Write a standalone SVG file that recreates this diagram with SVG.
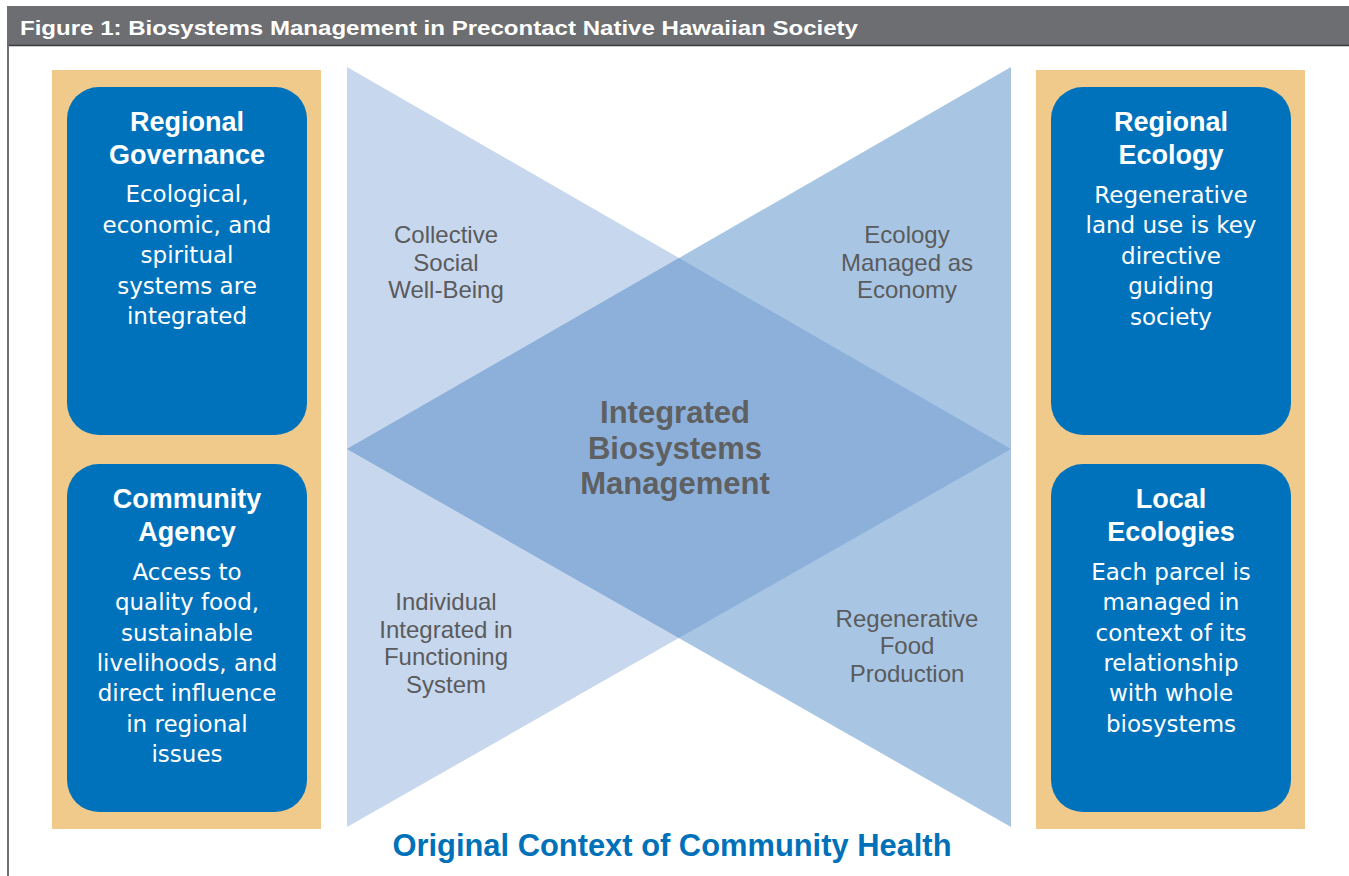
<svg xmlns="http://www.w3.org/2000/svg" width="1349" height="876" viewBox="0 0 1349 876">
<style>
.panel{fill:#f0ca8b}
.box{fill:#0072bc}
.hd{font-family:"Liberation Sans",Arial,sans-serif;font-weight:bold;font-size:27px;fill:#fff;text-anchor:middle}
.bd{font-family:"DejaVu Sans",sans-serif;font-size:23px;fill:#fff;text-anchor:middle}
.lbl{font-family:"Liberation Sans",Arial,sans-serif;font-size:24px;fill:#5a5b5d;text-anchor:middle}
.ctr{font-family:"Liberation Sans",Arial,sans-serif;font-weight:bold;font-size:31px;fill:#5f6062;text-anchor:middle}
</style>
<rect width="1349" height="876" fill="#fff"/>
<g id="header">
<rect x="7" y="6" width="1342" height="39" fill="#6d6e71"/>
<line x1="7" y1="45.5" x2="1349" y2="45.5" stroke="#3a3a3c" stroke-width="1.5"/>
<line x1="8" y1="45" x2="8" y2="876" stroke="#6d6e71" stroke-width="2"/>
<text x="20" y="35" font-family="Liberation Sans, Arial, sans-serif" font-weight="bold" font-size="21" fill="#fff" textLength="838" lengthAdjust="spacingAndGlyphs">Figure 1: Biosystems Management in Precontact Native Hawaiian Society</text>
</g>
<g id="bowtie">
<polygon points="347,67 1011,449 347,827" fill="#c7d7ed"/>
<polygon points="1011,67 347,449 1011,827" fill="#a8c6e3"/>
<polygon points="347,449 679,258 1011,449 679,638" fill="#8cb0da"/>
</g>
<g id="collective-social">
<text class="lbl" x="446" y="243">Collective</text>
<text class="lbl" x="446" y="271">Social</text>
<text class="lbl" x="446" y="298">Well-Being</text>
</g>
<g id="ecology-economy">
<text class="lbl" x="907" y="243">Ecology</text>
<text class="lbl" x="907" y="271">Managed as</text>
<text class="lbl" x="907" y="298">Economy</text>
</g>
<g id="individual-integrated">
<text class="lbl" x="446" y="610">Individual</text>
<text class="lbl" x="446" y="638">Integrated in</text>
<text class="lbl" x="446" y="665">Functioning</text>
<text class="lbl" x="446" y="693">System</text>
</g>
<g id="regenerative-food">
<text class="lbl" x="907" y="627">Regenerative</text>
<text class="lbl" x="907" y="654">Food</text>
<text class="lbl" x="907" y="682">Production</text>
</g>
<g id="integrated-biosystems">
<text class="ctr" x="675" y="423">Integrated</text>
<text class="ctr" x="675" y="459">Biosystems</text>
<text class="ctr" x="675" y="494">Management</text>
</g>
<g id="left-panel">
<rect class="panel" x="52" y="70" width="269" height="759"/>
</g>
<g id="right-panel">
<rect class="panel" x="1036" y="70" width="269" height="759"/>
</g>
<g id="regional-governance">
<rect class="box" x="67" y="87" width="240" height="348" rx="32"/>
<text class="hd" x="187" y="131">Regional</text>
<text class="hd" x="187" y="164">Governance</text>
<text class="bd" x="187" y="202">Ecological,</text>
<text class="bd" x="187" y="233">economic, and</text>
<text class="bd" x="187" y="263">spiritual</text>
<text class="bd" x="187" y="294">systems are</text>
<text class="bd" x="187" y="324">integrated</text>
</g>
<g id="community-agency">
<rect class="box" x="67" y="464" width="240" height="348" rx="32"/>
<text class="hd" x="187" y="508">Community</text>
<text class="hd" x="187" y="541">Agency</text>
<text class="bd" x="187" y="580">Access to</text>
<text class="bd" x="187" y="610">quality food,</text>
<text class="bd" x="187" y="641">sustainable</text>
<text class="bd" x="187" y="671">livelihoods, and</text>
<text class="bd" x="187" y="701">direct influence</text>
<text class="bd" x="187" y="732">in regional</text>
<text class="bd" x="187" y="762">issues</text>
</g>
<g id="regional-ecology">
<rect class="box" x="1051" y="87" width="240" height="348" rx="32"/>
<text class="hd" x="1171" y="131">Regional</text>
<text class="hd" x="1171" y="164">Ecology</text>
<text class="bd" x="1171" y="203">Regenerative</text>
<text class="bd" x="1171" y="233">land use is key</text>
<text class="bd" x="1171" y="264">directive</text>
<text class="bd" x="1171" y="294">guiding</text>
<text class="bd" x="1171" y="325">society</text>
</g>
<g id="local-ecologies">
<rect class="box" x="1051" y="464" width="240" height="348" rx="32"/>
<text class="hd" x="1171" y="508">Local</text>
<text class="hd" x="1171" y="541">Ecologies</text>
<text class="bd" x="1171" y="580">Each parcel is</text>
<text class="bd" x="1171" y="610">managed in</text>
<text class="bd" x="1171" y="641">context of its</text>
<text class="bd" x="1171" y="671">relationship</text>
<text class="bd" x="1171" y="701">with whole</text>
<text class="bd" x="1171" y="732">biosystems</text>
</g>
<g id="connectors"></g>
<g id="footer-title">
<text x="672" y="856" font-family="Liberation Sans, Arial, sans-serif" font-weight="bold" font-size="31" fill="#0071b9" text-anchor="middle" textLength="559" lengthAdjust="spacingAndGlyphs">Original Context of Community Health</text>
</g>
</svg>
